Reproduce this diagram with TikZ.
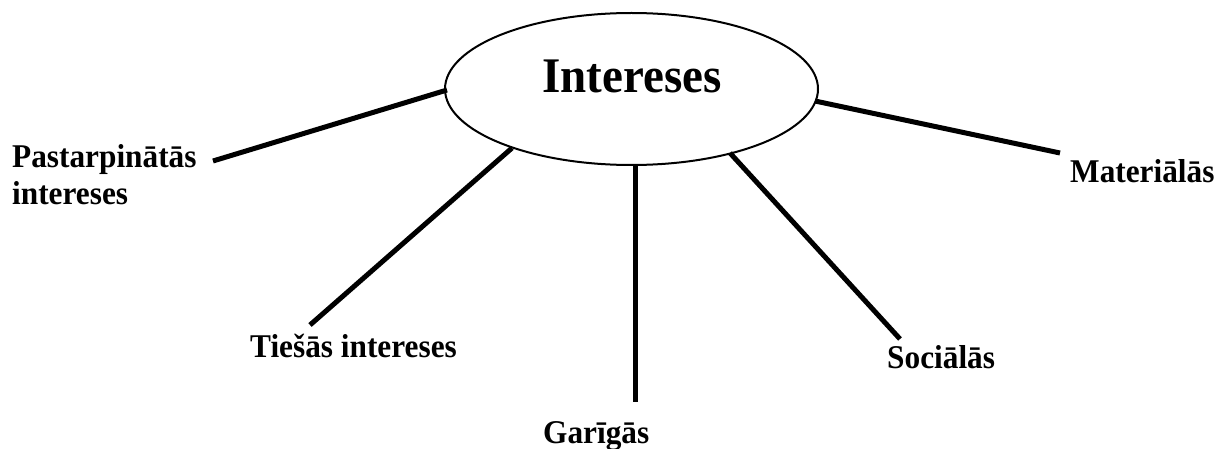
\documentclass[tikz,border=0pt]{standalone}
\usepackage{fontspec}
\usepackage{graphicx}
\setmainfont{Liberation Serif}
\usetikzlibrary{shapes.geometric}
\newcommand{\tallt}[1]{\scalebox{1}[1.06]{#1}}
\tikzset{
  hub/.style={draw, ellipse, line width=2pt, inner sep=0pt, minimum width=373pt, minimum height=152pt},
  spoke/.style={line width=5pt},
  lbl/.style={inner sep=0pt, anchor=base west, font=\fontsize{31.3pt}{37pt}\selectfont\bfseries, align=left},
  ttl/.style={inner sep=0pt, anchor=base, font=\fontsize{47pt}{52pt}\selectfont\bfseries}
}
\begin{document}
\begin{tikzpicture}[x=1pt,y=-1pt]
\useasboundingbox (0,0) rectangle (1229,449);
\node[hub] (c) at (631.5,89) {};
\node[ttl] (t) at (632,93) {\tallt{Intereses}};
% spoke endpoints
\coordinate (e1) at (447,90);   \coordinate (f1) at (213,161);
\coordinate (e2) at (512,148);  \coordinate (f2) at (310,325);
\coordinate (e3) at (635,165);  \coordinate (f3) at (635,402);
\coordinate (e4) at (730,153);  \coordinate (f4) at (900,339);
\coordinate (e5) at (815,101);  \coordinate (f5) at (1060,153);
\draw[spoke] (e1) -- (f1);
\draw[spoke] (e2) -- (f2);
\draw[spoke] (e3) -- (f3);
\draw[spoke] (e4) -- (f4);
\draw[spoke] (e5) -- (f5);
\node[lbl] (l1) at (12,205) {\tallt{Pastarpinātās}\\\tallt{intereses}};
\node[lbl] (l2) at (250,357) {\tallt{Tiešās intereses}};
\node[lbl] (l3) at (543,443) {\tallt{Garīgās}};
\node[lbl] (l4) at (887,368) {\tallt{Sociālās}};
\node[lbl] (l5) at (1070,183) {\tallt{Materiālās}};
\end{tikzpicture}
\end{document}
